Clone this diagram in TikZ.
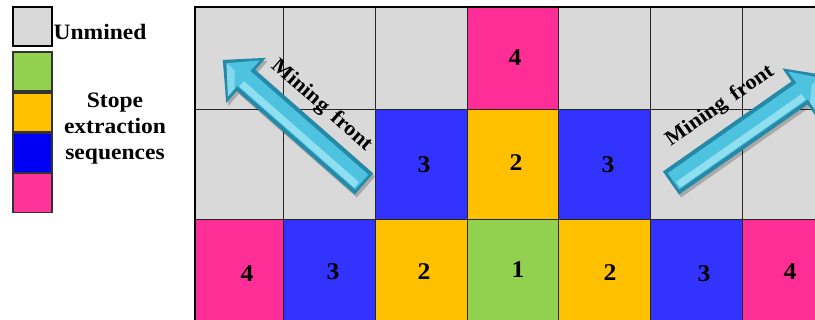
\documentclass[tikz,border=0pt]{standalone}
\usepackage{fontspec}
\setmainfont{Liberation Serif}[FakeStretch=1.07]
\definecolor{gr}{HTML}{D9D9D9}
\definecolor{pk}{HTML}{FF2E96}
\definecolor{bl}{HTML}{3333FF}
\definecolor{og}{HTML}{FFC000}
\definecolor{gn}{HTML}{92D050}
\definecolor{lbl}{HTML}{0000F5}
\definecolor{lpk}{HTML}{FF3399}
\definecolor{arrdark}{HTML}{2789A8}
\definecolor{arrmid}{HTML}{4EC3E0}
\definecolor{arrlight}{HTML}{A5E9F6}
\tikzset{
  gridline/.style={draw=black!85, line width=1pt},
  border/.style={draw=black, line width=1.6pt},
  num/.style={font=\fontsize{24}{26}\selectfont\bfseries, inner sep=0pt},
  legbox/.style={draw=black!80, line width=1.4pt, minimum width=39pt, minimum height=39pt, inner sep=0pt},
  legtext/.style={font=\fontsize{22}{26}\selectfont\bfseries, inner sep=0pt, align=center},
  minetext/.style={font=\fontsize{21}{22}\selectfont\bfseries, inner sep=0pt},
}
\newcommand\arrowshape{(0,-14) -- (157,-14) -- (157,-30) -- (188,0) -- (157,30) -- (157,14) -- (0,14) -- cycle}
\newcommand\minearrow[4]{% x, y, angle, yscale
  \begin{scope}[shift={(#1+2,#2-3)}, rotate=#3, yscale=#4]
    \fill[black, opacity=0.22] \arrowshape;
  \end{scope}
  \begin{scope}[shift={(#1,#2)}, rotate=#3, yscale=#4]
    \fill[arrdark] \arrowshape;
    \fill[arrmid] (3,-10) -- (160,-10) -- (160,-24) -- (183,0) -- (160,24) -- (160,10) -- (3,10) -- cycle;
    \fill[arrlight, opacity=0.75] (5,-9) -- (158,-9) -- (158,-2) -- (5,-2) -- cycle;
    \fill[arrlight, opacity=0.6] (160,-24) -- (183,0) -- (172,0) -- (160,-14) -- cycle;
    \fill[arrdark, opacity=0.5] (3,10) -- (160,10) -- (160,14) -- (0,14) -- cycle;
  \end{scope}
}
\begin{document}
\begin{tikzpicture}[x=1pt,y=1pt]
\useasboundingbox (0,0) rectangle (815,320);
\fill[white] (0,0) rectangle (815,320);
% legend
\node[legbox, draw=black, line width=2pt, fill=gr] (k1) at (32.5,293) {};
\node[legbox, fill=gn] (k2) at (32.5,248.5) {};
\node[legbox, fill=og] (k3) at (32.5,207.5) {};
\node[legbox, fill=lbl] (k4) at (32.5,167) {};
\node[legbox, fill=lpk] (k5) at (32.5,127) {};
\node[legtext] (unm) at (100,288.5) {Unmined};
\node[legtext] (seq) at (115,191.5) {Stope\\extraction\\sequences};
% grid
\begin{scope}
\clip (0,0) rectangle (815,320);
\foreach \xa/\xb/\ca/\cb/\cc in {195/283/gr/gr/pk, 283/375/gr/gr/bl, 375/467/gr/bl/og, 467/558/pk/og/gn, 558/650/gr/bl/og, 650/742/gr/gr/bl, 742/834/gr/gr/pk} {
  \fill[\ca] (\xa,313) rectangle (\xb,210);
  \fill[\cb] (\xa,210) rectangle (\xb,100);
  \fill[\cc] (\xa,100) rectangle (\xb,-10);
}
\foreach \x in {283,375,467,558,650,742} \draw[gridline] (\x,313) -- (\x,-10);
\foreach \y in {210,100} \draw[gridline] (195,\y) -- (834,\y);
\draw[border] (834,313) -- (195,313) -- (195,-10);
% numbers
\node[num] (n14) at (515,262) {4};
\node[num] (n23) at (424,155) {3};
\node[num] (n24) at (516,157) {2};
\node[num] (n25) at (608,155) {3};
\node[num] (n31) at (247,46) {4};
\node[num] (n32) at (333,48) {3};
\node[num] (n33) at (424,48) {2};
\node[num] (n34) at (518,50) {1};
\node[num] (n35) at (610,47) {2};
\node[num] (n36) at (704,46) {3};
\node[num] (n37) at (790,48) {4};
% arrows
\minearrow{364}{136}{138.7}{-1}
\minearrow{671}{137}{35}{1}
\node[minetext, rotate=-41.3] (mf1) at (321.5,214.5) {Mining\hspace{0.15em} front};
\node[minetext, rotate=35] (mf2) at (720,214) {Mining\hspace{0.15em} front};
\end{scope}
\end{tikzpicture}
\end{document}
